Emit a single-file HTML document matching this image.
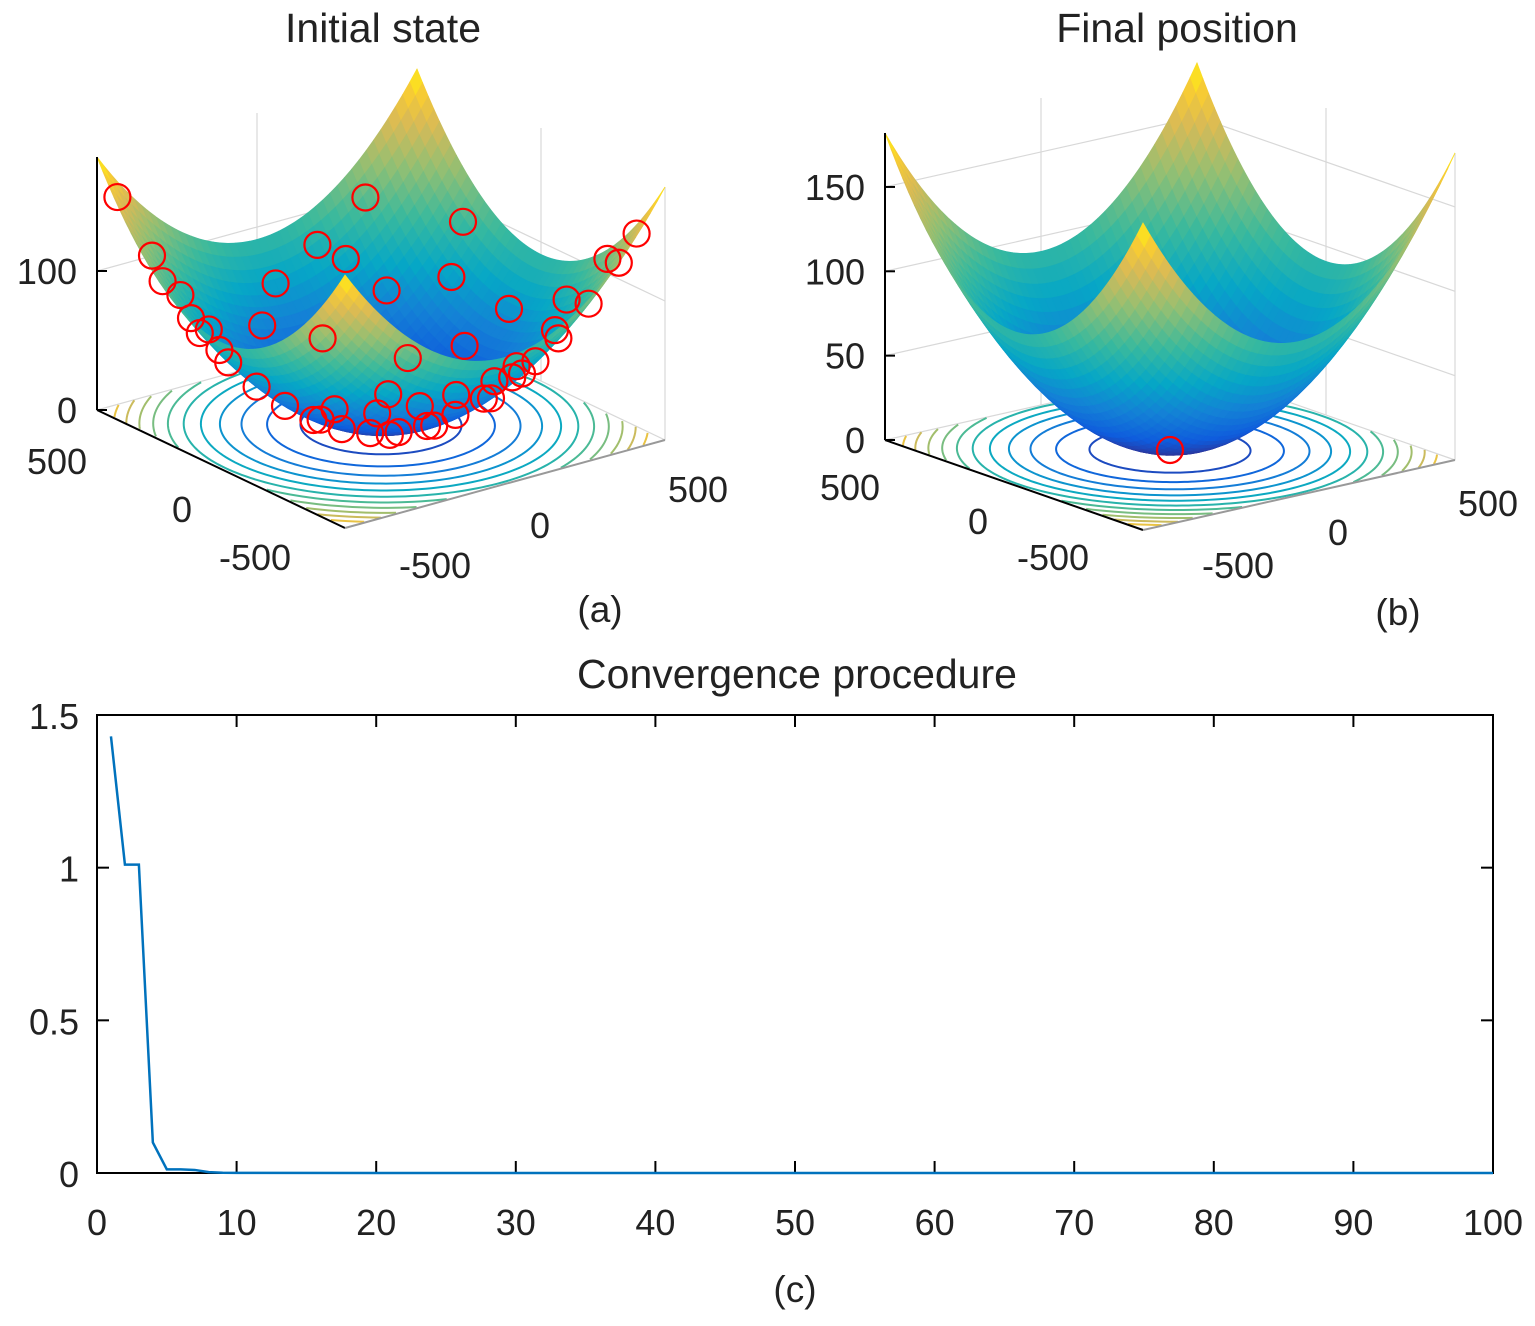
<!DOCTYPE html>
<html><head><meta charset="utf-8"><style>
body{margin:0;background:#fff;}
svg{display:block;font-family:"Liberation Sans",sans-serif;}
</style></head><body>
<svg id="fig" width="1535" height="1326" viewBox="0 0 1535 1326" xmlns="http://www.w3.org/2000/svg">
<g id="pa"></g>
<g id="pb"></g>
<g id="pc"></g>
<text x="383" y="42" font-size="41" text-anchor="middle" fill="#222">Initial state</text>
<text x="1177" y="42" font-size="41" text-anchor="middle" fill="#222">Final position</text>
<text x="600" y="622" font-size="37" text-anchor="middle" fill="#222">(a)</text>
<text x="1398" y="625" font-size="37" text-anchor="middle" fill="#222">(b)</text>
<text x="797" y="688" font-size="41" text-anchor="middle" fill="#222">Convergence procedure</text>
<text x="795" y="1302" font-size="37" text-anchor="middle" fill="#222">(c)</text>
</svg>
<script>
// convergence data
const iterX=[1,2,3,4,5,6,7,8,9,10,20,30,40,50,60,70,80,90,100];
const fitness=[1.43,1.01,1.01,0.1,0.012,0.012,0.01,0.003,0.001,0.0005,0,0,0,0,0,0,0,0,0];
const xTicks=[0,10,20,30,40,50,60,70,80,90,100];
const yTicks=[0,0.5,1,1.5];
const yTickLabels=["0","0.5","1","1.5"];
// particles in panel a (normalized domain coords)
const pu=[-0.95,-0.9,-0.85,-0.8,-0.75,-0.7,-0.65,-0.9,-0.8,-0.7,-0.6,-0.5,-0.4,-0.3,-0.2,-0.1,0,0.1,0.2,-0.6,-0.45,-0.3,-0.15,0.05,0.15,0.3,0.45,0.6,0.75,0.9,0.95,0.85,0.7,0.5,0.3,0.1,-0.1,-0.3,0.2,0.4,0.6,0.8,0.9,0.4,0.6,0.5,0.75,0.3,0.1,0.0,-0.2];
const pv=[0.9,0.6,0.75,0.5,0.65,0.4,0.55,0.3,0.2,0.1,0.0,-0.1,-0.2,-0.3,-0.4,-0.5,-0.6,-0.7,-0.8,-0.4,-0.55,-0.7,-0.8,-0.85,-0.9,-0.75,-0.85,-0.9,-0.95,-0.9,-0.6,-0.4,-0.5,-0.6,-0.5,-0.3,-0.2,0.1,0.2,0.3,0.1,0.0,0.5,0.8,0.9,0.6,0.4,0.9,0.6,0.85,0.7];
const zMax=182;
const NS="http://www.w3.org/2000/svg";
function mk(tag,attrs,parent){const e=document.createElementNS(NS,tag);for(const k in attrs)e.setAttribute(k,attrs[k]);parent.appendChild(e);return e;}
const stops=[[0,[53,42,135]],[0.12,[15,92,221]],[0.25,[20,129,214]],[0.38,[6,167,198]],[0.52,[56,185,158]],[0.68,[146,191,115]],[0.82,[217,186,86]],[0.93,[252,206,46]],[1,[249,251,14]]];
function parula(t){t=Math.max(0,Math.min(1,t));for(let i=1;i<stops.length;i++){if(t<=stops[i][0]){const a=stops[i-1],b=stops[i];const f=(t-a[0])/(b[0]-a[0]);const c=a[1].map((v,j)=>Math.round(v+(b[1][j]-v)*f));return `rgb(${c})`;}}return 'rgb(249,251,14)';}
function zf(u,v){return zMax*(u*u+v*v)/2;}

function panel(g,C,eu,ev,zs,zTicks,zTickLabels,uLabPos,vLabPos,particles){
  const P=(u,v,z)=>[C[0]+u*eu[0]+v*ev[0],C[1]+u*eu[1]+v*ev[1]-z*zs];
  const ztop=zMax*1.0;
  const walls=mk('g',{stroke:'#d8d8d8','stroke-width':1.2,fill:'none'},g);
  
  
  [-1,0,1].forEach(t=>{
    let a=P(t,1,0),b=P(t,1,ztop);mk('line',{x1:a[0],y1:a[1],x2:b[0],y2:b[1]},walls);
    a=P(1,t,0);b=P(1,t,ztop);mk('line',{x1:a[0],y1:a[1],x2:b[0],y2:b[1]},walls);
  });
  zTicks.forEach(z=>{
    let a=P(-1,1,z),b=P(1,1,z),c=P(1,-1,z);
    mk('polyline',{points:`${a} ${b} ${c}`},walls);
  });
  const cg=mk('g',{fill:'none','stroke-width':2},g);
  
  
  for(let k=1;k<=12;k++){
    const lev=k*zMax/12*0.95; const r=Math.sqrt(2*lev/zMax);
    let pts=[],segs=[];
    for(let i=0;i<=200;i++){const a=i/200*2*Math.PI;const u=r*Math.cos(a),v=r*Math.sin(a);
      if(Math.abs(u)<=1&&Math.abs(v)<=1){pts.push(P(u,v,0).join(','));}else{if(pts.length>1)segs.push(pts);pts=[];}}
    if(pts.length>1)segs.push(pts);
    segs.forEach(s=>mk('polyline',{points:s.join(' '),stroke:parula(lev/zMax)},cg));
  }
  const sg=mk('g',{},g);
  
  
  const N=44,quads=[];
  for(let i=0;i<N;i++)for(let j=0;j<N;j++){
    const u0=-1+2*i/N,u1=-1+2*(i+1)/N,v0=-1+2*j/N,v1=-1+2*(j+1)/N;
    quads.push({d:(u0+u1+v0+v1)/4,pts:[[u0,v0],[u1,v0],[u1,v1],[u0,v1]]});
  }
  quads.sort((a,b)=>b.d-a.d);
  quads.forEach(q=>{
    const um=(q.pts[0][0]+q.pts[2][0])/2,vm=(q.pts[0][1]+q.pts[2][1])/2;
    const col=parula(zf(um,vm)/zMax);
    mk('polygon',{points:q.pts.map(p=>P(p[0],p[1],zf(p[0],p[1])).join(',')).join(' '),fill:col,stroke:col,'stroke-width':0.8},sg);
  });
  const ag=mk('g',{stroke:'#000','stroke-width':2,fill:'none'},g);
  
  
  let a=P(-1,1,0),b=P(-1,1,ztop);mk('line',{x1:a[0],y1:a[1],x2:b[0],y2:b[1]},ag);
  a=P(-1,1,0);b=P(-1,-1,0);mk('line',{x1:a[0],y1:a[1],x2:b[0],y2:b[1]},ag);
  a=P(-1,-1,0);b=P(1,-1,0);mk('line',{x1:a[0],y1:a[1],x2:b[0],y2:b[1],stroke:'#999'},ag);
  zTicks.forEach((z,i)=>{const p=P(-1,1,z);
    mk('line',{x1:p[0],y1:p[1],x2:p[0]+10,y2:p[1]},ag);
    const t=mk('text',{x:p[0]-20,y:p[1]+13,'font-size':36,'text-anchor':'end',fill:'#222',stroke:'none'},g);t.textContent=zTickLabels[i];
    
    });
  const labs=['500','0','-500'];
  uLabPos.forEach((p,i)=>{const t=mk('text',{x:p[0],y:p[1],'font-size':36,'text-anchor':'middle',fill:'#222'},g);t.textContent=labs[i];
    
    });
  vLabPos.forEach((p,i)=>{const t=mk('text',{x:p[0],y:p[1],'font-size':36,'text-anchor':'middle',fill:'#222'},g);t.textContent=labs[2-i];
    
    });
  const pg=mk('g',{fill:'none',stroke:'#f00','stroke-width':2.2},g);
  
  
  particles.forEach(([u,v])=>{const p=P(u,v,zf(u,v));
    const c=mk('circle',{cx:p[0],cy:p[1],r:13},pg);
    
    });
}
panel(document.getElementById('pa'),[381,425],[160,-44],[-124,-59],1.39,[0,100],["0","100"],
  [[57,474],[182,522],[255,570]],[[435,578],[540,538],[698,502]],pu.map((u,i)=>[u,pv[i]]));
panel(document.getElementById('pb'),[1170,450],[156,-35],[-129,-45],1.687,[0,50,100,150],["0","50","100","150"],
  [[850,500],[978,534],[1053,570]],[[1238,578],[1338,545],[1488,516]],[[0,0]]);

const gc=document.getElementById('pc');
const X0=97,X1=1493,Y0=1173,Y1=715;
const sx=x=>X0+(x-0)/(100-0)*(X1-X0), sy=y=>Y0-(y-0)/(1.5-0)*(Y0-Y1);
const box=mk('rect',{x:X0,y:Y1,width:X1-X0,height:Y0-Y1,fill:'none',stroke:'#000','stroke-width':2},gc);


xTicks.forEach(t=>{const x=sx(t);
  mk('line',{x1:x,y1:Y0,x2:x,y2:Y0-12,stroke:'#000','stroke-width':2},gc);
  mk('line',{x1:x,y1:Y1,x2:x,y2:Y1+12,stroke:'#000','stroke-width':2},gc);
  const tx=mk('text',{x:x,y:Y0+62,'font-size':36,'text-anchor':'middle',fill:'#222'},gc);tx.textContent=t;
  
  });
yTicks.forEach((t,i)=>{const y=sy(t);
  mk('line',{x1:X0,y1:y,x2:X0+12,y2:y,stroke:'#000','stroke-width':2},gc);
  mk('line',{x1:X1,y1:y,x2:X1-12,y2:y,stroke:'#000','stroke-width':2},gc);
  const tx=mk('text',{x:X0-18,y:y+14,'font-size':36,'text-anchor':'end',fill:'#222'},gc);tx.textContent=yTickLabels[i];
  
  });
const line=mk('polyline',{points:iterX.map((x,i)=>sx(x)+','+sy(fitness[i])).join(' '),fill:'none',stroke:'#0072bd','stroke-width':2.5},gc);


</script>
</body></html>
